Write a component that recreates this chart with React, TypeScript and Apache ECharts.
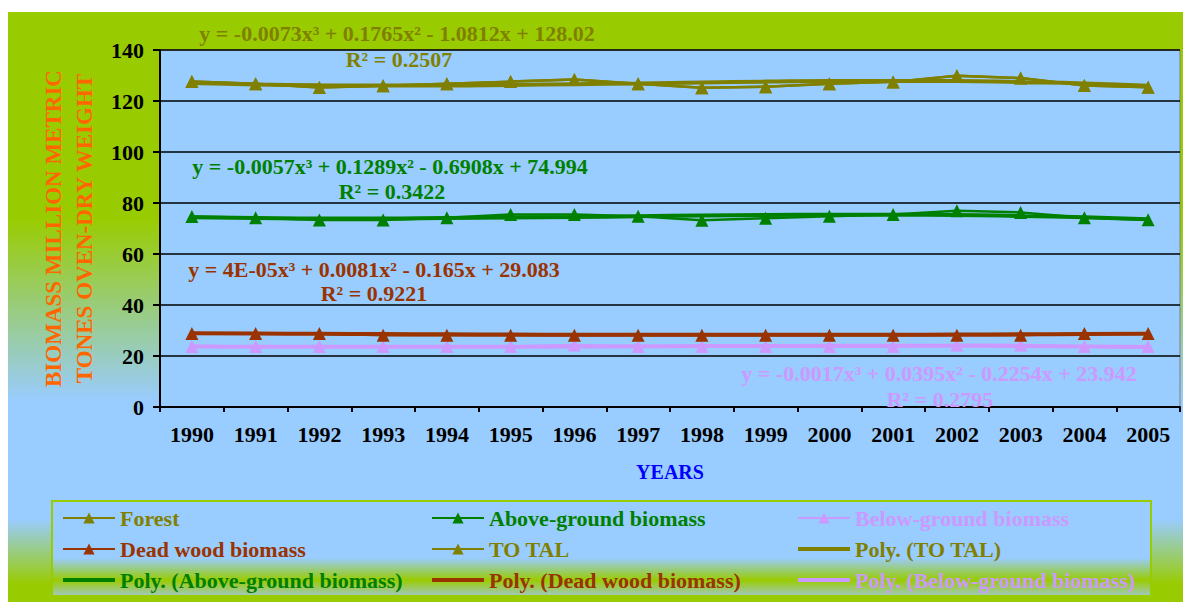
import React, { useEffect, useRef } from 'react';
import * as echarts from 'echarts';

const years = ['1990', '1991', '1992', '1993', '1994', '1995', '1996', '1997', '1998', '1999', '2000', '2001', '2002', '2003', '2004', '2005'];

const totalValues = [127.6, 126.8, 125.3, 126.0, 126.8, 127.6, 128.4, 126.8, 125.2, 125.6, 126.8, 127.5, 129.9, 129.0, 126.1, 125.4];
const forestValues = [127.6, 126.8, 125.3, 126.0, 126.8, 127.6, 128.4, 126.8, 125.2, 125.6, 126.8, 127.5, 129.9, 129.0, 126.1, 125.4];
const aboveValues = [74.7, 74.2, 73.3, 73.3, 74.2, 75.5, 75.5, 74.8, 73.2, 74.0, 74.8, 75.5, 77.0, 76.3, 74.2, 73.4];
const belowValues = [23.7, 23.7, 23.7, 23.7, 23.7, 23.7, 24.3, 23.7, 23.7, 23.7, 23.7, 23.7, 24.3, 24.3, 23.7, 23.7];
const deadValues = [28.8, 28.8, 28.8, 28.1, 28.1, 28.1, 28.1, 28.1, 28.1, 28.1, 28.1, 28.1, 28.1, 28.1, 28.8, 28.8];

const polyTotal = [127.1, 126.5, 126.2, 126.1, 126.1, 126.3, 126.6, 126.9, 127.3, 127.6, 127.8, 127.8, 127.8, 127.4, 126.9, 126.0];
const polyAbove = [74.4, 74.1, 73.9, 73.9, 74.1, 74.3, 74.5, 74.8, 75.1, 75.3, 75.4, 75.4, 75.3, 74.9, 74.4, 73.6];
const polyDead = [28.9, 28.8, 28.7, 28.6, 28.5, 28.4, 28.3, 28.3, 28.3, 28.3, 28.3, 28.3, 28.4, 28.5, 28.6, 28.7];
const polyBelow = [23.8, 23.6, 23.6, 23.6, 23.6, 23.6, 23.7, 23.8, 23.9, 23.9, 24.0, 24.0, 24.0, 23.9, 23.7, 23.5];

const eqTotal = 'y = -0.0073x³ + 0.1765x² - 1.0812x + 128.02';
const r2Total = 'R² = 0.2507';
const eqAbove = 'y = -0.0057x³ + 0.1289x² - 0.6908x + 74.994';
const r2Above = 'R² = 0.3422';
const eqDead = 'y = 4E-05x³ + 0.0081x² - 0.165x + 29.083';
const r2Dead = 'R² = 0.9221';
const eqBelow = 'y = -0.0017x³ + 0.0395x² - 0.2254x + 23.942';
const r2Below = 'R² = 0.2795';

const OLIVE = '#808000';
const GREEN = '#008000';
const VIOLET = '#CC99FF';
const BROWN = '#993300';
const FONT = "'Liberation Serif', 'Times New Roman', serif";
const LINE_ICON = 'path://M0,0L52,0L52,4L0,4Z';

function dataSeries(name: string, data: number[], color: string) {
  return {
    name,
    type: 'line',
    data,
    symbol: 'triangle',
    symbolSize: [13, 13],
    lineStyle: { color, width: 2.5 },
    itemStyle: { color },
    z: 3,
  };
}

function polySeries(name: string, data: number[], color: string) {
  return {
    name,
    type: 'line',
    data,
    symbol: 'none',
    smooth: true,
    lineStyle: { color, width: 4 },
    itemStyle: { color },
    z: 2,
  };
}

function eqText(text: string, x: number, y: number, color: string) {
  return {
    type: 'text',
    x,
    y,
    z: 10,
    style: {
      text,
      fill: color,
      fontFamily: FONT,
      fontWeight: 'bold',
      fontSize: 22,
      align: 'center',
      verticalAlign: 'middle',
      textAlign: 'center',
      textVerticalAlign: 'middle',
    },
  };
}

function legendCol(left: number, items: { name: string; color: string; poly?: boolean }[]) {
  return {
    orient: 'vertical',
    left,
    top: 507,
    padding: 0,
    itemWidth: 52,
    itemHeight: 14,
    itemGap: 9,
    selectedMode: false,
    data: items.map((it) =>
      it.poly
        ? { name: it.name, icon: LINE_ICON, textStyle: { color: it.color } }
        : { name: it.name, textStyle: { color: it.color } }
    ),
    textStyle: { fontFamily: FONT, fontWeight: 'bold', fontSize: 22, lineHeight: 22 },
  };
}

export default function App() {
  const ref = useRef<HTMLDivElement>(null);
  useEffect(() => {
    const chart = echarts.init(ref.current!, null, { renderer: 'svg' });
    const option = {
      animation: false,
      backgroundColor: 'transparent',
      textStyle: { fontFamily: FONT },
      grid: {
        left: 160,
        top: 50,
        right: 3,
        bottom: 195,
        show: true,
        backgroundColor: '#99CCFF',
        borderColor: '#808080',
        borderWidth: 1,
      },
      xAxis: {
        type: 'category',
        data: years,
        boundaryGap: true,
        axisLine: { lineStyle: { color: '#000', width: 2 } },
        axisTick: { show: true, length: 5, interval: 0, lineStyle: { color: '#000', width: 2 } },
        axisLabel: { interval: 0, margin: 16, color: '#000', fontSize: 22, fontWeight: 'bold', fontFamily: FONT },
        name: 'YEARS',
        nameLocation: 'middle',
        nameGap: 55,
        nameTextStyle: { color: '#0000FF', fontSize: 20, fontWeight: 'bold', fontFamily: FONT },
        splitLine: { show: false },
      },
      yAxis: {
        type: 'value',
        min: 0,
        max: 140,
        interval: 20,
        axisLine: { show: true, lineStyle: { color: '#000', width: 2 } },
        axisTick: { show: true, length: 7, lineStyle: { color: '#000', width: 2 } },
        axisLabel: { margin: 16, color: '#000', fontSize: 22, fontWeight: 'bold', fontFamily: FONT },
        splitLine: { show: true, lineStyle: { color: '#000', width: 1.5 } },
        name: 'BIOMASS MILLION METRIC\nTONES OVEN-DRY WEIGHT',
        nameLocation: 'middle',
        nameRotate: 90,
        nameGap: 60,
        nameTextStyle: { color: '#FF6600', fontSize: 23, fontWeight: 'bold', lineHeight: 31, fontFamily: FONT },
      },
      legend: [
        legendCol(62, [
          { name: 'Forest', color: OLIVE },
          { name: 'Dead wood biomass', color: BROWN },
          { name: 'Poly. (Above-ground biomass)', color: GREEN, poly: true },
        ]),
        legendCol(431, [
          { name: 'Above-ground biomass', color: GREEN },
          { name: 'TO TAL', color: OLIVE },
          { name: 'Poly. (Dead wood biomass)', color: BROWN, poly: true },
        ]),
        legendCol(797, [
          { name: 'Below-ground biomass', color: VIOLET },
          { name: 'Poly. (TO TAL)', color: OLIVE, poly: true },
          { name: 'Poly. (Below-ground biomass)', color: VIOLET, poly: true },
        ]),
      ],
      series: [
        dataSeries('Forest', forestValues, OLIVE),
        dataSeries('Above-ground biomass', aboveValues, GREEN),
        dataSeries('Below-ground biomass', belowValues, VIOLET),
        dataSeries('Dead wood biomass', deadValues, BROWN),
        dataSeries('TO TAL', totalValues, OLIVE),
        polySeries('Poly. (TO TAL)', polyTotal, OLIVE),
        polySeries('Poly. (Above-ground biomass)', polyAbove, GREEN),
        polySeries('Poly. (Dead wood biomass)', polyDead, BROWN),
        polySeries('Poly. (Below-ground biomass)', polyBelow, VIOLET),
      ],
      graphic: {
        elements: [
          eqText(eqTotal, 397, 33, OLIVE),
          eqText(r2Total, 399, 59, OLIVE),
          eqText(eqAbove, 390, 166, GREEN),
          eqText(r2Above, 392, 191, GREEN),
          eqText(eqDead, 374, 269, BROWN),
          eqText(r2Dead, 374, 293, BROWN),
          eqText(eqBelow, 939, 373, VIOLET),
          eqText(r2Below, 940, 399, VIOLET),
        ],
      },
    };
    chart.setOption(option as any);
    return () => chart.dispose();
  }, []);

  return (
    <div style={{ position: 'fixed', left: 0, top: 0, width: 1183, height: 602, background: '#ffffff', overflow: 'hidden' }}>
      <div
        style={{
          position: 'absolute',
          left: 8,
          top: 12,
          width: 1175,
          height: 590,
          background:
            'linear-gradient(to bottom, #99CC00 0%, #99CC00 35%, #99CCFF 66%, #99CCFF 86%, #99CC00 97%, #99CC00 100%)',
        }}
      />
      <div
        style={{
          position: 'absolute',
          left: 51,
          top: 500,
          width: 1101,
          height: 97,
          boxSizing: 'border-box',
          border: '2px solid #99CC00',
          background: 'linear-gradient(to bottom, #99CCFF 0%, #99CCFF 60%, #99CC00 84%, #A2C8B8 100%)',
        }}
      />
      <div ref={ref} style={{ position: 'absolute', left: 0, top: 0, width: 1183, height: 602 }} />
    </div>
  );
}
